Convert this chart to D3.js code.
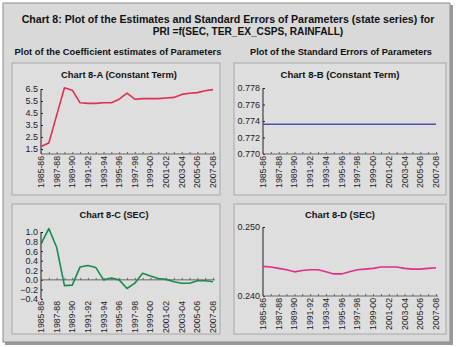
<!DOCTYPE html>
<html>
<head>
<meta charset="utf-8">
<script src="https://cdn.jsdelivr.net/npm/d3@7"></script>
<style>
  body { margin: 0; background: #fff; }
  svg { display: block; font-family: "Liberation Sans", Arial, sans-serif; }
</style>
</head>
<body>
<svg id="chart" width="457" height="347"></svg>
<script>
// data
const years = ["1985-86","1986-87","1987-88","1988-89","1989-90","1990-91","1991-92","1992-93",
  "1993-94","1994-95","1995-96","1996-97","1997-98","1998-99","1999-00","2000-01","2001-02",
  "2002-03","2003-04","2004-05","2005-06","2006-07","2007-08"];
const constCoef = [1.7, 2.0, 4.3, 6.6, 6.4, 5.35, 5.3, 5.3, 5.35, 5.35, 5.65, 6.15, 5.65, 5.7,
  5.7, 5.7, 5.75, 5.8, 6.05, 6.15, 6.2, 6.35, 6.45];
const constSE = [0.7736, 0.7736, 0.7736, 0.7736, 0.7736, 0.7736, 0.7736, 0.7736, 0.7736, 0.7736,
  0.7736, 0.7736, 0.7736, 0.7736, 0.7736, 0.7736, 0.7736, 0.7736, 0.7736, 0.7736, 0.7736, 0.7736, 0.7736];
const secCoef = [0.75, 1.07, 0.68, -0.12, -0.11, 0.27, 0.3, 0.26, 0.0, 0.04, 0.0, -0.18, -0.07,
  0.14, 0.08, 0.03, 0.01, -0.04, -0.07, -0.07, -0.02, -0.02, -0.04];
const secSE = [0.2443, 0.2442, 0.2440, 0.2438, 0.2435, 0.2437, 0.2438, 0.2438, 0.2435, 0.2432,
  0.2432, 0.2435, 0.2438, 0.2439, 0.2440, 0.2442, 0.2442, 0.2442, 0.2440, 0.2439, 0.2439, 0.2440, 0.2441];

const ticksA = [1.5, 2.5, 3.5, 4.5, 5.5, 6.5];
const ticksB = [0.770, 0.772, 0.774, 0.776, 0.778];
const ticksC = [-0.4, -0.2, 0.0, 0.2, 0.4, 0.6, 0.8, 1.0];
const ticksD = [0.240, 0.250];

const svg = d3.select("#chart");

// shrink/grow a text's font so it spans the width seen in the original
function fitWidth(sel, w) {
  const fs = parseFloat(sel.style("font-size"));
  const len = sel.node().getComputedTextLength();
  sel.style("font-size", (fs * w / len).toFixed(2) + "px");
  return sel;
}

// outer frame
svg.append("rect").attr("x", 5).attr("y", 5).attr("width", 448).attr("height", 340).attr("fill", "#9a9a9a");
svg.append("rect").attr("x", 3).attr("y", 3).attr("width", 447).attr("height", 339)
  .attr("fill", "#d9d9d9").attr("stroke", "#8c8c8c").attr("stroke-width", 1);

function boldText(x, y, txt, w) {
  const t = svg.append("text").attr("x", x).attr("y", y).attr("text-anchor", "middle")
    .style("font-weight", "bold").style("font-size", "10px").attr("fill", "#111").text(txt);
  return fitWidth(t, w);
}

boldText(228, 23, "Chart 8: Plot of the Estimates and Standard Errors of Parameters (state series) for", 413);
boldText(248, 35, "PRI =f(SEC, TER_EX_CSPS, RAINFALL)", 191);
boldText(118, 55, "Plot of the Coefficient estimates of Parameters", 207);
boldText(341, 55, "Plot of the Standard Errors of Parameters", 182);

function panel(o) {
  const g = svg.append("g");
  g.append("rect").attr("x", o.box[0]).attr("y", o.box[1])
    .attr("width", o.box[2] - o.box[0]).attr("height", o.box[3] - o.box[1])
    .attr("fill", "#dedede").attr("stroke", "#a8a8a8");

  const t = g.append("text").attr("x", o.titleX).attr("y", o.titleY).attr("text-anchor", "middle")
    .style("font-weight", "bold").style("font-size", "10px").attr("fill", "#111").text(o.title);
  fitWidth(t, o.titleW);

  const x = d3.scalePoint().domain(years).range([o.plot[0], o.plot[1]]);
  const y = d3.scaleLinear().domain(o.domain).range([o.plot[3], o.plot[2]]);

  // y axis
  const yAxis = g.append("g").attr("transform", `translate(${o.plot[0]},0)`)
    .call(d3.axisLeft(y).tickValues(o.ticks).tickFormat(d3.format(o.fmt)).tickSize(-2).tickPadding(3));
  yAxis.select(".domain").attr("stroke", "#222").attr("d", `M0,${o.plot[2]}V${o.plot[3]}`);
  yAxis.selectAll(".tick line").attr("stroke", "#222");
  yAxis.selectAll("text").style("font-size", "9px").attr("fill", "#222")
    .style("font-family", "'Liberation Sans', Arial, sans-serif");

  // x axis line
  const axisY = o.axisAt !== undefined ? y(o.axisAt) : o.plot[3];
  const xAxis = g.append("g").attr("transform", `translate(0,${axisY})`)
    .call(d3.axisBottom(x).tickSize(-2).tickFormat(""));
  xAxis.select(".domain").attr("stroke", "#666").attr("d", `M${o.plot[0]},0H${o.plot[1] + 2}`);
  xAxis.selectAll(".tick line").attr("stroke", "#666");

  // x labels, rotated, every other year
  g.append("g").selectAll("text")
    .data(years.filter((d, i) => i % 2 === 0))
    .join("text")
    .attr("transform", d => `translate(${x(d) + 3},${o.plot[3] + 2}) rotate(-90)`)
    .attr("text-anchor", "end")
    .style("font-size", "8.7px").attr("fill", "#222")
    .text(d => d);

  const line = d3.line().x((d, i) => x(years[i])).y(d => y(d));
  g.append("path").datum(o.values).attr("d", line)
    .attr("fill", "none").attr("stroke", o.color).attr("stroke-width", o.width || 1.6)
    .attr("stroke-linejoin", "round");
}

panel({
  box: [12, 63, 220, 195], plot: [41, 213, 89, 154], domain: [1.083, 6.5], ticks: ticksA, fmt: ".1f",
  title: "Chart 8-A (Constant Term)", titleX: 119, titleY: 78, titleW: 116, values: constCoef, color: "#e03050"
});
panel({
  box: [234, 63, 446, 195], plot: [263, 436, 88, 154], domain: [0.770, 0.778], ticks: ticksB, fmt: ".3f",
  title: "Chart 8-B (Constant Term)", titleX: 340, titleY: 78, titleW: 119, values: constSE, color: "#5050a8"
});
panel({
  box: [12, 204, 220, 334], plot: [41, 213, 232, 299], domain: [-0.4, 1.0], ticks: ticksC, fmt: ".1f",
  axisAt: 0, title: "Chart 8-C (SEC)", titleX: 114, titleY: 218, titleW: 69, values: secCoef, color: "#1a8a50"
});
panel({
  box: [234, 204, 446, 334], plot: [263, 436, 227, 296], domain: [0.240, 0.250], ticks: ticksD, fmt: ".3f",
  title: "Chart 8-D (SEC)", titleX: 340, titleY: 218, titleW: 70, values: secSE, color: "#e0308a"
});
</script>
</body>
</html>
